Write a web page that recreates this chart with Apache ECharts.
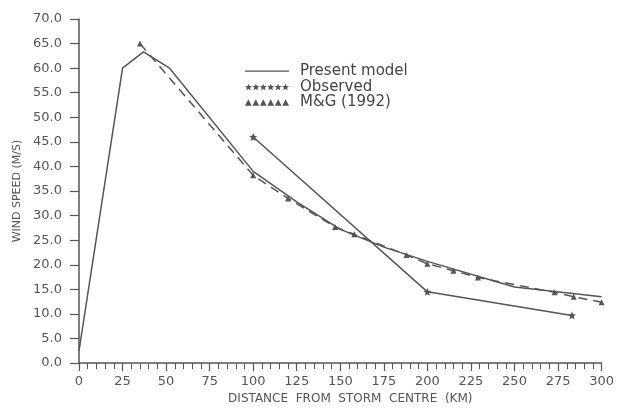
<!DOCTYPE html>
<html lang="en">
<head>
    <meta charset="utf-8">
    <title>Wind speed profile</title>
    <script src="https://cdn.jsdelivr.net/npm/echarts@6/dist/echarts.min.js"></script>
    <style>
        html, body { margin: 0; padding: 0; background: #fff; }
        #main { width: 617px; height: 410px; }
    </style>
</head>
<body>
<div id="main"></div>
<script type="text/javascript">
    // data
    var distModel  = [0, 25, 37, 52, 100, 125, 150, 175, 200, 250, 300];
    var speedModel = [2.5, 60, 63.3, 60, 39, 32.8, 27.2, 23.6, 20.7, 15.5, 13.5];

    var distObs  = [100, 200, 283];
    var speedObs = [46, 14.5, 9.7];

    var distMG  = [35, 100, 120, 147, 158, 188, 200, 215, 229, 273, 284, 300];
    var speedMG = [65, 38.2, 33.5, 27.7, 26.2, 22, 20.2, 18.8, 17.4, 14.4, 13.5, 12.4];

    var xTicks = [0, 25, 50, 75, 100, 125, 150, 175, 200, 225, 250, 275, 300];

    var ink = '#555';
    var font = 'DejaVu Sans';

    function pairs(xs, ys) {
        var out = [];
        for (var i = 0; i < xs.length; i++) out.push([xs[i], ys[i]]);
        return out;
    }

    function star(cx, cy, r) {
        var p = '';
        for (var k = 0; k < 10; k++) {
            var rr = (k % 2 === 0) ? r : r * 0.45;
            var a = -Math.PI / 2 + k * Math.PI / 5;
            p += (k === 0 ? 'M' : 'L') + (cx + rr * Math.cos(a)).toFixed(2) + ',' + (cy + rr * Math.sin(a)).toFixed(2);
        }
        return p + 'Z';
    }
    function tri(cx, cy, r) {
        return 'M' + cx + ',' + (cy - r) + 'L' + (cx + r) + ',' + (cy + r) + 'L' + (cx - r) + ',' + (cy + r) + 'Z';
    }

    var starSym = 'path://' + star(10, 10, 10);
    // legend icons: rows of markers, and a thin line inside a 44x7 box
    var starRow = 'path://', triRow = 'path://';
    for (var i = 0; i < 6; i++) {
        starRow += star(10 + i * 20, 10, 10);
        triRow += tri(10 + i * 20, 10, 9);
    }
    var lineIcon = 'path://M0,0L0.01,0L0,0.01Z M0,2.6L44,2.6L44,3.8L0,3.8Z M44,7L43.99,7L44,6.99Z';

    var mainChart = echarts.init(document.getElementById('main'));

    var option = {
        animation: false,
        grid: { left: 79, right: 13, top: 19, bottom: 44 },
        legend: {
            orient: 'vertical',
            left: 245,
            top: 64,
            padding: 0,
            itemWidth: 44,
            itemHeight: 7,
            itemGap: 0.5,
            textStyle: { color: '#444', fontFamily: font, fontSize: 15, lineHeight: 15, padding: [0, 0, 0, 6] },
            data: [
                { name: 'Present model', icon: lineIcon },
                { name: 'Observed', icon: starRow },
                { name: 'M&G (1992)', icon: triRow }
            ]
        },
        xAxis: {
            type: 'value',
            min: 0, max: 300, interval: 25,
            name: 'DISTANCE  FROM  STORM  CENTRE  (KM)',
            nameLocation: 'middle',
            nameGap: 18,
            nameTextStyle: { color: ink, fontFamily: font, fontSize: 12, padding: [0, 0, 0, 20] },
            axisLine: { lineStyle: { color: ink, width: 1.5 } },
            axisTick: { inside: false, length: 8, lineStyle: { color: ink, width: 1.2 } },
            minorTick: { show: true, splitNumber: 5, length: 6, lineStyle: { color: ink, width: 1 } },
            axisLabel: {
                color: ink, fontFamily: font, fontSize: 13, margin: 12,
                formatter: function (v) { return xTicks.indexOf(v) >= 0 ? String(v) : ''; }
            },
            splitLine: { show: false }
        },
        yAxis: {
            type: 'value',
            min: 0, max: 70, interval: 5,
            name: 'WIND SPEED (M/S)',
            nameLocation: 'middle',
            nameGap: 53,
            nameTextStyle: { color: ink, fontFamily: font, fontSize: 11 },
            axisLine: { show: true, lineStyle: { color: ink, width: 1.5 } },
            axisTick: { show: true, length: 9, lineStyle: { color: ink, width: 1.2 } },
            axisLabel: {
                color: ink, fontFamily: font, fontSize: 13, margin: 17,
                formatter: function (v) { return v.toFixed(1); }
            },
            splitLine: { show: false }
        },
        series: [
            {
                name: 'Present model',
                type: 'line',
                data: pairs(distModel, speedModel),
                symbol: 'none',
                lineStyle: { color: ink, width: 1.5 },
                itemStyle: { color: ink }
            },
            {
                name: 'Observed',
                type: 'line',
                data: pairs(distObs, speedObs),
                symbol: starSym,
                symbolSize: 8,
                lineStyle: { color: ink, width: 1.5 },
                itemStyle: { color: ink }
            },
            {
                name: 'M&G (1992)',
                type: 'line',
                data: pairs(distMG, speedMG),
                symbol: 'triangle',
                symbolSize: 6,
                lineStyle: { color: ink, width: 1.5, type: [9, 6] },
                itemStyle: { color: ink }
            }
        ]
    };

    mainChart.setOption(option);
</script>
</body>
</html>
